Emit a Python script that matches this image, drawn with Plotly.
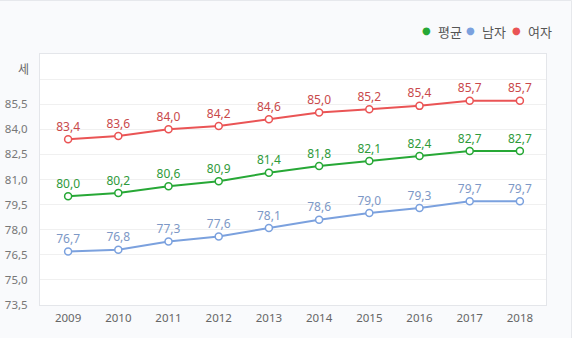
import plotly.graph_objects as go

years = [2009, 2010, 2011, 2012, 2013, 2014, 2015, 2016, 2017, 2018]
avg = [80.0, 80.2, 80.6, 80.9, 81.4, 81.8, 82.1, 82.4, 82.7, 82.7]
male = [76.7, 76.8, 77.3, 77.6, 78.1, 78.6, 79.0, 79.3, 79.7, 79.7]
female = [83.4, 83.6, 84.0, 84.2, 84.6, 85.0, 85.2, 85.4, 85.7, 85.7]
series_names = ["평균", "남자", "여자"]
ytick_vals = [73.5, 75.0, 76.5, 78.0, 79.5, 81.0, 82.5, 84.0, 85.5, 87.0]
ytick_text = ["73,5", "75,0", "76,5", "78,0", "79,5", "81,0", "82,5", "84,0", "85,5", ""]
unit_label = "세"

line_colors = ["#27a836", "#7ba1de", "#ea5455"]
label_colors = ["#2f9a3a", "#7d98c6", "#c9494b"]

W, H = 572, 338
ML, MR, MT, MB = 40, 26, 54, 33
PW, PH = W - ML - MR, H - MT - MB

def fmt(v):
    return f"{v:.1f}".replace(".", ",")

fig = go.Figure()
for name, vals, lc, tc in zip(series_names, [avg, male, female], line_colors, label_colors):
    fig.add_trace(go.Scatter(
        x=years, y=vals, name=name, mode="lines+markers+text",
        line=dict(color=lc, width=2),
        marker=dict(size=7, color="white", line=dict(color=lc, width=1.5)),
        text=[fmt(v) for v in vals], textposition="top center",
        textfont=dict(family="Noto Sans, sans-serif", size=12, color=tc),
        cliponaxis=False, showlegend=False,
    ))

def px(xp):
    return (xp - ML) / PW

def py(yp):
    return (H - MB - yp) / PH

annotations = []
legend_items = [(426, 436, "평균", line_colors[0]), (470, 480, "남자", line_colors[1]), (516, 526, "여자", line_colors[2])]
for dx, tx, label, col in legend_items:
    annotations.append(dict(x=px(dx), y=py(30), xref="paper", yref="paper", text="●",
                            showarrow=False, xanchor="center", yanchor="middle",
                            font=dict(size=10, color=col, family="DejaVu Sans")))
    annotations.append(dict(x=px(tx), y=py(31), xref="paper", yref="paper", text=label,
                            showarrow=False, xanchor="left", yanchor="middle",
                            font=dict(size=13, color="#555555", family="Noto Sans CJK KR")))
annotations.append(dict(x=px(31), y=py(69), xref="paper", yref="paper", text=unit_label,
                        showarrow=False, xanchor="right", yanchor="middle",
                        font=dict(size=12, color="#666666", family="Noto Sans CJK KR")))

fig.update_layout(
    width=W, height=H,
    margin=dict(l=ML, r=MR, t=MT, b=MB, autoexpand=False),
    paper_bgcolor="#f9fafc", plot_bgcolor="#ffffff",
    annotations=annotations,
    shapes=[dict(type="rect", xref="paper", yref="paper",
                 x0=px(-1), x1=px(571.5), y0=py(339), y1=py(0.5),
                 line=dict(color="#e6e8ec", width=1), fillcolor="rgba(0,0,0,0)", layer="below")],
    xaxis=dict(range=[2008.44, 2018.52], tickvals=years, ticktext=[str(y) for y in years],
               automargin=False,
               showgrid=False, zeroline=False, showline=True, mirror=True,
               linecolor="#e4e6ea", linewidth=1, ticks="outside", ticklen=2, tickcolor="rgba(0,0,0,0)",
               tickfont=dict(family="Noto Sans, sans-serif", size=11.5, color="#666666")),
    yaxis=dict(range=[73.5, 88.5], tickvals=ytick_vals, ticktext=ytick_text,
               automargin=False,
               showgrid=True, gridcolor="#f0f0f0", gridwidth=1, zeroline=False,
               showline=True, mirror=True, linecolor="#e4e6ea", linewidth=1,
               ticks="outside", ticklen=9, tickcolor="rgba(0,0,0,0)",
               tickfont=dict(family="Noto Sans, sans-serif", size=11.5, color="#777777")),
    font=dict(family="Noto Sans, sans-serif"),
)

fig.write_html("out.html")
